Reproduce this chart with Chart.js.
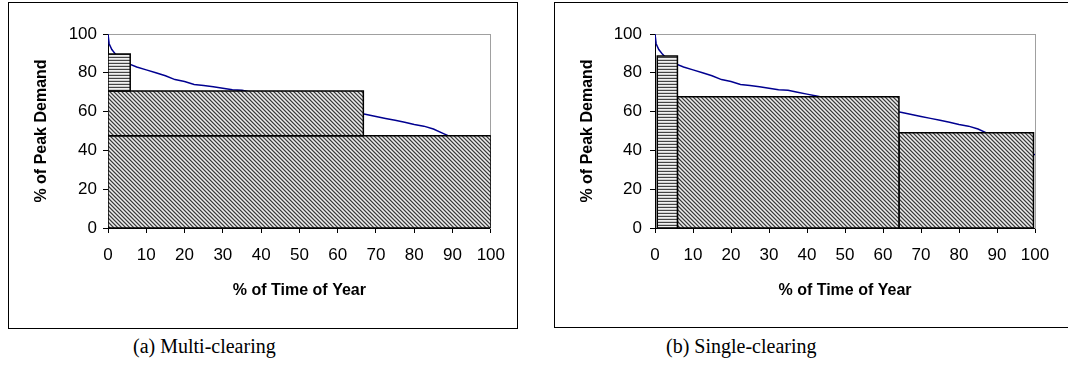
<!DOCTYPE html>
<html><head><meta charset="utf-8">
<script src="https://cdn.jsdelivr.net/npm/chart.js@4.4.1/dist/chart.umd.min.js"></script>
<style>
html,body{margin:0;padding:0;background:#fff;width:1068px;height:377px;overflow:hidden;position:relative;}
.box{position:absolute;border:1px solid #000;box-sizing:border-box;background:#fff;}
.box canvas{display:block;}
.cap{position:absolute;font-family:"Liberation Serif","Times New Roman",serif;font-size:20px;color:#000;white-space:nowrap;line-height:22px;}
</style></head><body>
<div class="box" style="left:8px;top:2px;width:510px;height:327px;"><canvas id="cA" width="508" height="325"></canvas></div>
<div class="box" style="left:554px;top:2px;width:520px;height:326px;"><canvas id="cB" width="518" height="324"></canvas></div>
<div class="cap" style="left:133px;top:335px;">(a) Multi-clearing</div>
<div class="cap" style="left:666px;top:335px;">(b) Single-clearing</div>
<script>
// Load duration curve (% of peak demand vs % of time of year)
const ldcTime = [0,0.3,1,2,3,5,7.5,10,12.5,15,17.5,20,22.5,25,27.5,30,32.5,35,37.5,40,42.5,45,47.5,50,52.5,55,57.5,60,62.5,65,67.5,70,72.5,75,77.5,80,82.5,85,87.5,90,92.5,95,97.5,100];
const ldcDemand = [100,95,92,89.5,87.5,85,83,81.5,80,78.5,76.5,75.5,74,73.5,72.8,72,71.3,71,70,69,68,67,66,65,64,63,62,61.2,60.5,59.5,58.5,57.5,56.5,55.5,54.5,53.3,52.5,51,48.8,46.5,44.5,42.5,40.3,37.7];

// (a) Multi-clearing blocks
const multiStart  = [0, 0, 0];
const multiEnd    = [5.8, 66.7, 100];
const multiBottom = [70.6, 47.6, 0];
const multiTop    = [89.7, 70.6, 47.6];

// (b) Single-clearing blocks
const singleStart  = [0.6, 5.9, 64.2];
const singleEnd    = [5.9, 64.2, 99.6];
const singleBottom = [0, 0, 0];
const singleTop    = [88.6, 67.6, 49.1];

const xTicks = [0,10,20,30,40,50,60,70,80,90,100];
const yTicks = [0,20,40,60,80,100];

function hLinePattern(ctx){
  const c = document.createElement('canvas'); c.width = 4; c.height = 3;
  const g = c.getContext('2d');
  g.fillStyle = '#f0f0f0'; g.fillRect(0,0,4,3);
  g.fillStyle = '#cfcfcf'; g.fillRect(0,2,4,1);
  g.fillStyle = '#444444'; g.fillRect(0,0,4,1);
  return ctx.createPattern(c,'repeat');
}
function diagPattern(ctx){
  const c = document.createElement('canvas'); c.width = 4; c.height = 4;
  const g = c.getContext('2d');
  const cols = ['#3c3c3c','#9c9c9c','#ececec','#b6b6b6'];
  for(let y=0;y<4;y++) for(let x=0;x<4;x++){
    g.fillStyle = cols[((x - y) % 4 + 4) % 4];
    g.fillRect(x,y,1,1);
  }
  return ctx.createPattern(c,'repeat');
}

function makeChart(id, starts, ends, bottoms, tops, L){
  const canvas = document.getElementById(id);
  const ctx = canvas.getContext('2d');
  const pats = [hLinePattern(ctx), diagPattern(ctx), diagPattern(ctx)];
  const datasets = [];
  for(let i=0;i<starts.length;i++){
    datasets.push({
      data:[{x:starts[i],y:bottoms[i]},{x:starts[i],y:tops[i]},{x:ends[i],y:tops[i]},{x:ends[i],y:bottoms[i]},{x:starts[i],y:bottoms[i]}],
      borderColor:'#000', borderWidth:1.5, backgroundColor:pats[i], fill:'shape',
      pointRadius:0, tension:0, order:i
    });
  }
  datasets.push({
    data: ldcTime.map((t,k)=>({x:t,y:ldcDemand[k]})),
    borderColor:'#000090', borderWidth:1.5, fill:false, pointRadius:0, tension:0, order:10
  });
  const font = {family:'"Liberation Sans", Arial, sans-serif', size:17};
  const tfont = {family:'"Liberation Sans", Arial, sans-serif', size:16, weight:'bold'};
  return new Chart(ctx,{
    type:'line',
    data:{datasets},
    options:{
      responsive:false, animation:false, devicePixelRatio:1,
      layout:{padding:{left:0, top:L.top, right:L.right, bottom:0}},
      plugins:{legend:{display:false}, tooltip:{enabled:false}},
      scales:{
        x:{type:'linear', position:'bottom', min:0, max:100,
          afterBuildTicks: s => { s.ticks = xTicks.map(v=>({value:v})); },
          afterFit: s => { s.height = L.xh; },
          ticks:{color:'#000', font, padding:12, maxRotation:0, autoSkip:false},
          grid:{drawOnChartArea:false, color:'#000', tickLength:5, lineWidth:1},
          border:{color:'#000', width:1},
          title:{display:true, text:'% of Time of Year', color:'#000', font:tfont, padding:{top:0,bottom:L.xtp}}
        },
        y:{type:'linear', position:'left', min:0, max:100,
          afterBuildTicks: s => { s.ticks = yTicks.map(v=>({value:v})); },
          afterFit: s => { s.width = L.yw; },
          ticks:{color:'#000', font, padding:L.ypad},
          grid:{drawOnChartArea:false, color:'#000', tickLength:5, lineWidth:1},
          border:{color:'#000', width:1},
          title:{display:true, text:'% of Peak Demand', color:'#000', font:tfont, padding:{top:L.ytp,bottom:0}}
        },
        x2:{type:'linear', position:'top', min:0, max:100,
          afterFit: s => { s.height = 0; },
          ticks:{display:false}, grid:{drawOnChartArea:false, drawTicks:false},
          border:{color:'#a0a0a0', width:1}
        },
        y2:{type:'linear', position:'right', min:0, max:100,
          afterFit: s => { s.width = 0; },
          ticks:{display:false}, grid:{drawOnChartArea:false, drawTicks:false},
          border:{color:'#a0a0a0', width:1}
        }
      }
    }
  });
}

makeChart('cA', multiStart, multiEnd, multiBottom, multiTop, {top:31, right:26, xh:100, yw:99, xtp:28, ytp:23, ypad:6});
makeChart('cB', singleStart, singleEnd, singleBottom, singleTop, {top:31, right:38, xh:99, yw:100, xtp:27, ytp:23, ypad:8});
</script>
</body></html>
